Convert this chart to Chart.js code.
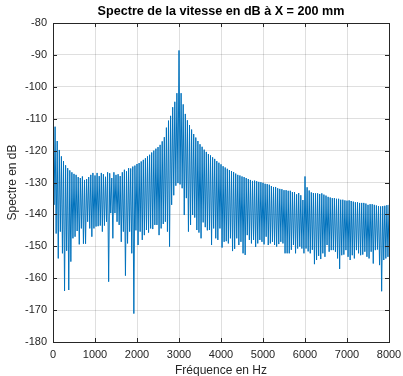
<!DOCTYPE html>
<html lang="fr">
<head>
<meta charset="utf-8">
<script src="https://cdn.jsdelivr.net/npm/chart.js"></script>
<title>Spectre de la vitesse</title>
<style>
  html, body { margin: 0; padding: 0; background: #fff; }
  #box { width: 403px; height: 376px; }
</style>
</head>
<body>
<div id="box"><canvas id="spectre"></canvas></div>
<script>
// comb spectrum : one peak every 50 Hz, one notch halfway between
const df = 50;
// peak levels (dB) at 0, 50, 100 ... 8000 Hz
const peaks = [
  -100, -112.5, -117, -119.8, -121.8, -123.3, -124.6, -125.5, -126.2, -126.8,
  -127.3, -127.6, -128.3, -128.6, -128.1, -129.2, -128.9, -128.3, -127.6, -127,
  -127.8, -127, -128, -127, -127.4, -128.2, -126.8, -127.1, -128.6, -126.8,
  -127.6, -127.4, -128, -126.8, -126, -126.5, -125.5, -125.6, -125, -124.7,
  -124.2, -123.9, -123.4, -122.9, -122.4, -121.8, -121.3, -120.6, -120, -119.4,
  -118.9, -118.2, -117.1, -115.8, -112.8, -110.6, -109.1, -106.4, -104.7, -102,
  -88.6, -102, -105.5, -108.5, -110.5, -112, -113.4, -114.8, -115.9, -117,
  -118, -118.8, -119.7, -120.4, -121.1, -121.5, -122.1, -122.6, -123.3, -123.8,
  -124.3, -124.9, -125.3, -125.7, -126.1, -126.4, -126.7, -127.2, -127.6, -127.8,
  -128.1, -128.3, -128.6, -128.9, -129.2, -129.5, -129.4, -129.6, -129.8, -129.9,
  -130.1, -130.4, -130.5, -130.7, -131.1, -131.4, -131.4, -131.8, -132, -132.1,
  -132.4, -132.4, -132.6, -132.6, -133, -133, -133.7, -133.3, -134, -135.5,
  -128.1, -131.5, -132.5, -133.1, -133.3, -133.4, -133.4, -133.6, -133.4, -133.8,
  -134.1, -134.5, -134.7, -134.9, -134.9, -135.1, -135.1, -135.4, -135.4, -135.6,
  -135.7, -135.6, -135.8, -136, -136.2, -136.2, -136.4, -136.4, -136.4, -136.6,
  -137, -136.8, -136.8, -137, -137.2, -137.4, -137.5, -137.4, -137.3, -137.1,
  -137
];
// notch levels (dB) at 25, 75, 125 ... 7975 Hz
const notches = [
  -137, -146, -153.8, -145.4, -152.2, -164, -151.4, -163.7, -154.8, -147.5,
  -147, -145.2, -149.4, -144.4, -149.2, -149.2, -142.3, -144.4, -147, -144.4,
  -143.8, -143.7, -143.5, -145.4, -143.5, -142.3, -161.1, -139.6, -147.5, -139.6,
  -142.3, -143.3, -148.6, -145.4, -159.2, -149.1, -145.4, -152.2, -171.1, -145,
  -149.6, -145.4, -148, -146.5, -144.9, -145.7, -144.4, -144.6, -143.3, -143.3,
  -146.5, -144.4, -143, -142.3, -145.4, -150.1, -137, -134, -131, -130.2,
  -130.6, -131.8, -140.2, -134.9, -145.4, -143.3, -140.2, -141, -144.9, -145.7,
  -147.5, -142.5, -144, -145, -144.9, -149.6, -144.4, -147.5, -148, -144.4,
  -150.4, -148.6, -148.4, -149.1, -147.5, -151.5, -150.8, -147.5, -149.6, -148.6,
  -152.2, -152.7, -146.5, -148, -149.1, -148, -150.2, -149.1, -148, -148.6,
  -149.4, -147, -149.6, -149.1, -148.6, -149.6, -150.1, -149.3, -148.6, -149.1,
  -152.2, -152.2, -152.2, -151.1, -149.6, -152.2, -150.7, -150.1, -150.7, -152.2,
  -150.7, -151.6, -152.2, -151.1, -155.6, -154.3, -153, -154, -152.2, -153.3,
  -149.6, -151.7, -151.2, -151.2, -151.7, -153.8, -157.1, -152.8, -152.6, -151.2,
  -153.3, -154.3, -152.8, -153.8, -151.2, -152.2, -152.8, -152.6, -151.7, -153.3,
  -153.8, -151.7, -155.4, -151.2, -151, -155.9, -164.1, -154.3, -153.8, -153.3
];
const xTicks = [0, 1000, 2000, 3000, 4000, 5000, 6000, 7000, 8000];
const yTicks = [-180, -170, -160, -150, -140, -130, -120, -110, -100, -90, -80];
const titre = 'Spectre de la vitesse en dB à X = 200 mm';

const pts = [];
for (let i = 0; i < peaks.length; i++) {
  pts.push({ x: i * df, y: peaks[i] });
  if (i < notches.length) pts.push({ x: i * df + df / 2, y: notches[i] });
}

const ink = '#262626';
const font = 'Helvetica, "Liberation Sans", Arial, sans-serif';

// matlab-like box with inward ticks, title centred over the axes
const boxPlugin = {
  id: 'matlabBox',
  afterDraw(chart) {
    const { ctx, chartArea: a, scales } = chart;
    const L = 4;
    ctx.save();
    ctx.strokeStyle = ink;
    ctx.lineWidth = 1;
    ctx.beginPath();
    xTicks.forEach(v => {
      const px = Math.round(scales.x.getPixelForValue(v)) + 0.5;
      ctx.moveTo(px, a.bottom); ctx.lineTo(px, a.bottom - L);
      ctx.moveTo(px, a.top); ctx.lineTo(px, a.top + L);
    });
    yTicks.forEach(v => {
      const py = Math.round(scales.y.getPixelForValue(v)) + 0.5;
      ctx.moveTo(a.left, py); ctx.lineTo(a.left + L, py);
      ctx.moveTo(a.right, py); ctx.lineTo(a.right - L, py);
    });
    ctx.stroke();
    ctx.strokeRect(Math.round(a.left) + 0.5, Math.round(a.top) + 0.5,
      Math.round(a.right - a.left), Math.round(a.bottom - a.top));
    ctx.fillStyle = '#000';
    ctx.font = 'bold 12.6px ' + font;
    ctx.textAlign = 'center';
    ctx.textBaseline = 'middle';
    ctx.fillText(titre, (a.left + a.right) / 2, 12);
    ctx.restore();
  }
};

new Chart(document.getElementById('spectre'), {
  type: 'line',
  data: {
    datasets: [{
      data: pts,
      borderColor: '#0072BD',
      borderWidth: 1,
      pointRadius: 0,
      tension: 0,
      fill: false
    }]
  },
  options: {
    responsive: true,
    maintainAspectRatio: false,
    animation: false,
    events: [],
    layout: { padding: { left: 0, right: 14, top: 23, bottom: 0 } },
    plugins: {
      legend: { display: false },
      tooltip: { enabled: false },
      title: { display: false }
    },
    scales: {
      x: {
        type: 'linear',
        min: 0, max: 8000,
        afterBuildTicks: s => { s.ticks = xTicks.map(v => ({ value: v })); },
        afterFit: s => { s.height = 34; s.paddingLeft = 0; s.paddingRight = 0; },
        grid: { color: 'rgba(38,38,38,0.15)', drawTicks: false },
        border: { display: false },
        ticks: {
          color: ink, padding: 6, maxRotation: 0,
          font: { family: font, size: 11 },
          callback: v => String(v)
        },
        title: {
          display: true, text: 'Fréquence en Hz', color: ink,
          font: { family: font, size: 12 },
          padding: { top: 0, bottom: -2 }
        }
      },
      y: {
        type: 'linear',
        min: -180, max: -80,
        afterBuildTicks: s => { s.ticks = yTicks.map(v => ({ value: v })); },
        afterFit: s => { s.width = 53; s.paddingTop = 0; s.paddingBottom = 0; },
        grid: { color: 'rgba(38,38,38,0.15)', drawTicks: false },
        border: { display: false },
        ticks: {
          color: ink, padding: 6,
          font: { family: font, size: 11 },
          callback: v => String(v)
        },
        title: {
          display: true, text: 'Spectre en dB', color: ink,
          font: { family: font, size: 12 },
          padding: { top: 5, bottom: 0 }
        }
      }
    }
  },
  plugins: [boxPlugin]
});
</script>
</body>
</html>
